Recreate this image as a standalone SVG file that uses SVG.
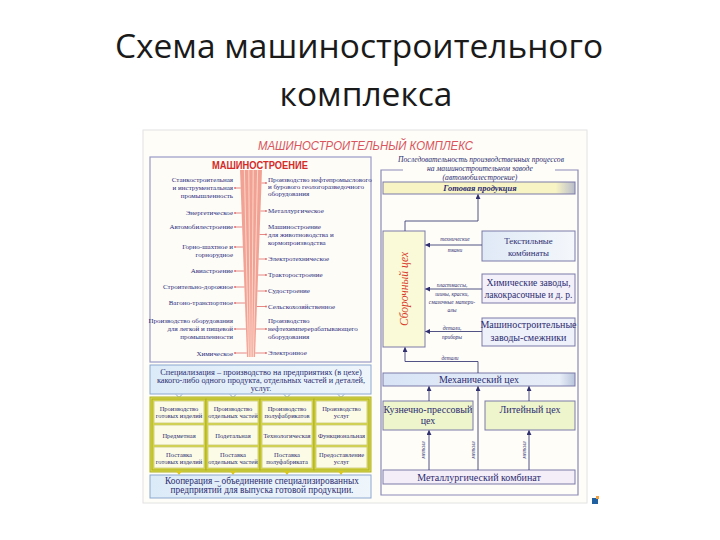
<svg xmlns="http://www.w3.org/2000/svg" width="720" height="540" viewBox="0 0 720 540">
<defs>
<style>
.t{font-family:"Open Sans","Liberation Sans",sans-serif;font-size:33.5px;fill:#1a1a1a;text-anchor:middle}
.sl{font-family:"Liberation Serif","DejaVu Serif",serif;font-size:7px;fill:#2c2c80}
.l{text-anchor:end}
.tk{stroke:#e06a6a;stroke-width:0.8;fill:none}
.dot{fill:#e06a6a}
.box{stroke:#7a7aa8;stroke-width:1}
.rt{font-family:"Liberation Serif","DejaVu Serif",serif;font-size:10px;fill:#2c2c70;text-anchor:middle}
.al{font-family:"Liberation Serif","DejaVu Serif",serif;font-size:5.5px;fill:#2c2c70;text-anchor:middle;font-style:italic}
.cn{fill:none;stroke:#404078;stroke-width:0.9}
.col{fill:#d6d640;stroke:#aeae22;stroke-width:1}
.cell{fill:#fbfbe6;stroke:#c8c878;stroke-width:0.8}
.ct{font-family:"Liberation Serif","DejaVu Serif",serif;font-size:6.5px;fill:#2c2c70;text-anchor:middle}
.bt{font-family:"Liberation Serif","DejaVu Serif",serif;fill:#2c2c70;text-anchor:middle}
.hd{font-family:"Liberation Serif","DejaVu Serif",serif;font-style:italic;font-size:7.6px;fill:#2c2c70;text-anchor:middle}
.stripe{stroke:#fcd6ca;stroke-width:1}
.chev{fill:none;stroke:#8aa8d0;stroke-width:1}
.tri{fill:#d8c820}
</style>
<marker id="ah" viewBox="0 0 6 6" refX="5.5" refY="3" markerWidth="5" markerHeight="5" orient="auto" markerUnits="userSpaceOnUse"><path d="M0,0 L6,3 L0,6 z" fill="#303070"/></marker>
<linearGradient id="gY" x1="0" x2="1"><stop offset="0" stop-color="#f8f4c4"/><stop offset="0.9" stop-color="#f8f4c4"/><stop offset="1" stop-color="#b8bccc"/></linearGradient>
<linearGradient id="gB" x1="0" x2="1"><stop offset="0" stop-color="#d8e4f6"/><stop offset="0.92" stop-color="#e8eef8"/><stop offset="1" stop-color="#b8c4dc"/></linearGradient>
<linearGradient id="gT" x1="0" x2="1"><stop offset="0" stop-color="#dfe9f6"/><stop offset="1" stop-color="#f4f7fb"/></linearGradient>
<linearGradient id="gS" x1="0" x2="1"><stop offset="0" stop-color="#dcebf8"/><stop offset="1" stop-color="#eef5fb"/></linearGradient>
</defs>

<rect width="720" height="540" fill="#ffffff"/>

<g id="title">
<text class="t" x="359" y="58">Схема машиностроительного</text>
<text class="t" x="366" y="106">комплекса</text>
</g>

<g id="frame">
<rect x="143" y="130" width="444" height="373" fill="#fefdf8" stroke="#e2e2e2" stroke-width="1"/>
<text x="258" y="149.5" textLength="215" lengthAdjust="spacingAndGlyphs" font-family="'Liberation Sans', sans-serif" font-size="12" font-style="italic" fill="#d9545c">МАШИНОСТРОИТЕЛЬНЫЙ КОМПЛЕКС</text>
<rect x="592" y="498" width="6" height="6" fill="#2060a0"/>
<rect x="596" y="496" width="3" height="3" fill="#f0a040"/>
</g>

<g id="left-panel">
<rect x="150" y="157" width="221" height="205" fill="#fdfcf6" stroke="#9a9ac8" stroke-width="1.2"/>
<text x="212" y="169" textLength="96" lengthAdjust="spacingAndGlyphs" font-family="'Liberation Sans', sans-serif" font-size="10.5" font-weight="bold" fill="#d42a2a">МАШИНОСТРОЕНИЕ</text>
</g>

<g id="bar">
<polygon points="240,170 262,170 255,357 247,357" fill="#f2a294"/>
<line class="stripe" x1="244.4" y1="170" x2="248.6" y2="357"/>
<line class="stripe" x1="248.8" y1="170" x2="250.2" y2="357"/>
<line class="stripe" x1="253.2" y1="170" x2="251.8" y2="357"/>
<line class="stripe" x1="257.6" y1="170" x2="253.4" y2="357"/>
</g>

<g id="sector-connectors">
<path class="tk" d="M235,188H240.7M235,213H241.6M235,227H242.1M235,247H242.9M235,271H243.8M235,287H244.4M235,303H245M235,329H245.9M235,353H246.8"/>
<path class="tk" d="M261.5,183H266M260.5,211H266M259.6,234.5H266M258.7,259H266M258.1,275H266M257.5,291H266M256.9,306.5H266M256.1,329H266M255.2,353H266"/>
<g class="dot">
<circle cx="235" cy="188" r="0.9"/><circle cx="235" cy="213" r="0.9"/><circle cx="235" cy="227" r="0.9"/><circle cx="235" cy="247" r="0.9"/><circle cx="235" cy="271" r="0.9"/><circle cx="235" cy="287" r="0.9"/><circle cx="235" cy="303" r="0.9"/><circle cx="235" cy="329" r="0.9"/><circle cx="235" cy="353" r="0.9"/>
<circle cx="266" cy="183" r="0.9"/><circle cx="266" cy="211" r="0.9"/><circle cx="266" cy="234.5" r="0.9"/><circle cx="266" cy="259" r="0.9"/><circle cx="266" cy="275" r="0.9"/><circle cx="266" cy="291" r="0.9"/><circle cx="266" cy="306.5" r="0.9"/><circle cx="266" cy="329" r="0.9"/><circle cx="266" cy="353" r="0.9"/>
</g>
</g>

<g id="sectors-left" class="sl">
<g id="s-stanko"><text class="l" x="233" y="182">Станкостроительная</text><text class="l" x="233" y="190">и инструментальная</text><text class="l" x="233" y="198">промышленность</text></g>
<g id="s-energ"><text class="l" x="233" y="215">Энергетическое</text></g>
<g id="s-avto"><text class="l" x="233" y="229">Автомобилестроение</text></g>
<g id="s-gorno"><text class="l" x="233" y="249">Горно-шахтное и</text><text class="l" x="233" y="257">горнорудное</text></g>
<g id="s-avia"><text class="l" x="233" y="273">Авиастроение</text></g>
<g id="s-stroit"><text class="l" x="233" y="289">Строительно-дорожное</text></g>
<g id="s-vagon"><text class="l" x="233" y="305">Вагоно-транспортное</text></g>
<g id="s-legk"><text class="l" x="233" y="323">Производство оборудования</text><text class="l" x="233" y="331">для легкой и пищевой</text><text class="l" x="233" y="339">промышленности</text></g>
<g id="s-him"><text class="l" x="233" y="355.5">Химическое</text></g>
</g>

<g id="sectors-right" class="sl">
<g id="s-neft"><text x="268" y="182">Производство нефтепромыслового</text><text x="268" y="189">и бурового геологоразведочного</text><text x="268" y="196">оборудования</text></g>
<g id="s-metal"><text x="268" y="213">Металлургическое</text></g>
<g id="s-zhiv"><text x="268" y="229">Машиностроение</text><text x="268" y="237">для животноводства и</text><text x="268" y="245">кормопроизводства</text></g>
<g id="s-elteh"><text x="268" y="261">Электротехническое</text></g>
<g id="s-trakt"><text x="268" y="277">Тракторостроение</text></g>
<g id="s-sudo"><text x="268" y="293">Судостроение</text></g>
<g id="s-selh"><text x="268" y="308.5">Сельскохозяйственное</text></g>
<g id="s-neftehim"><text x="268" y="323">Производство</text><text x="268" y="331">нефтехимперерабатывающего</text><text x="268" y="339">оборудования</text></g>
<g id="s-elektr"><text x="268" y="355">Электронное</text></g>
</g>

<g id="specialization">
<rect x="150" y="365" width="221" height="29" fill="url(#gS)" stroke="#8aa8d0" stroke-width="1"/>
<text class="bt" font-size="8.3" x="261" y="375">Специализация – производство на предприятиях (в цехе)</text>
<text class="bt" font-size="8.3" x="261" y="383">какого-либо одного продукта, отдельных частей и деталей,</text>
<text class="bt" font-size="8.3" x="261" y="391">услуг.</text>
<path class="chev" d="M176,394.5L179,397.5L182,394.5M230,394.5L233,397.5L236,394.5M284,394.5L287,397.5L290,394.5M338,394.5L341,397.5L344,394.5"/>
</g>

<g id="grid">
<rect x="150" y="397" width="221" height="75" fill="#dcdc50" stroke="#b0b024" stroke-width="1"/>
<rect class="col" x="152" y="399" width="54" height="71"/>
<rect class="col" x="206" y="399" width="54" height="71"/>
<rect class="col" x="260" y="399" width="54" height="71"/>
<rect class="col" x="314" y="399" width="55" height="71"/>
<g id="c11"><rect class="cell" x="154" y="401" width="50" height="22"/><text class="ct" x="179" y="410.5">Производство</text><text class="ct" x="179" y="418">готовых изделий</text></g>
<g id="c12"><rect class="cell" x="208" y="401" width="50" height="22"/><text class="ct" x="233" y="410.5">Производство</text><text class="ct" x="233" y="418">отдельных частей</text></g>
<g id="c13"><rect class="cell" x="262" y="401" width="50" height="22"/><text class="ct" x="287" y="410.5">Производство</text><text class="ct" x="287" y="418">полуфабрикатов</text></g>
<g id="c14"><rect class="cell" x="316" y="401" width="51" height="22"/><text class="ct" x="341.5" y="410.5">Производство</text><text class="ct" x="341.5" y="418">услуг</text></g>
<g id="c21"><rect class="cell" x="154" y="425" width="50" height="20"/><text class="ct" font-size="7" x="179" y="437.5">Предметная</text></g>
<g id="c22"><rect class="cell" x="208" y="425" width="50" height="20"/><text class="ct" font-size="7" x="233" y="437.5">Подетальная</text></g>
<g id="c23"><rect class="cell" x="262" y="425" width="50" height="20"/><text class="ct" font-size="7" x="287" y="437.5">Технологическая</text></g>
<g id="c24"><rect class="cell" x="316" y="425" width="51" height="20"/><text class="ct" font-size="7" x="341.5" y="437.5">Функциональная</text></g>
<g id="c31"><rect class="cell" x="154" y="447" width="50" height="21"/><text class="ct" x="179" y="456.5">Поставка</text><text class="ct" x="179" y="464">готовых изделий</text></g>
<g id="c32"><rect class="cell" x="208" y="447" width="50" height="21"/><text class="ct" x="233" y="456.5">Поставка</text><text class="ct" x="233" y="464">отдельных частей</text></g>
<g id="c33"><rect class="cell" x="262" y="447" width="50" height="21"/><text class="ct" x="287" y="456.5">Поставка</text><text class="ct" x="287" y="464">полуфабриката</text></g>
<g id="c34"><rect class="cell" x="316" y="447" width="51" height="21"/><text class="ct" x="341.5" y="456.5">Предоставление</text><text class="ct" x="341.5" y="464">услуг</text></g>
<path class="tri" d="M176,471H182L179,475ZM230,471H236L233,475ZM284,471H290L287,475ZM338,471H344L341,475Z"/>
</g>

<g id="cooperation">
<rect x="150" y="475" width="221" height="23" fill="url(#gS)" stroke="#8aa8d0" stroke-width="1"/>
<text class="bt" font-size="9.3" x="262" y="484">Кооперация – объединение специализированных</text>
<text class="bt" font-size="9.3" x="262" y="493">предприятий для выпуска готовой продукции.</text>
</g>

<g id="right-panel">
<path d="M403,170H381V495H578V170H555" fill="none" stroke="#8a8ab8" stroke-width="1.2"/>
<text class="hd" x="481" y="162">Последовательность производственных процессов</text>
<text class="hd" x="480" y="171">на машиностроительном заводе</text>
<text class="hd" x="480" y="179.5">(автомобилестроение)</text>
</g>

<g id="n-gotovaya">
<rect class="box" x="383" y="182" width="192" height="12" fill="url(#gY)"/>
<text class="bt" x="480" y="191" font-size="8.5" font-weight="bold" font-style="italic">Готовая продукция</text>
</g>

<g id="n-sborochny">
<rect class="box" x="383" y="231" width="42" height="116" fill="#fafad8"/>
<text transform="translate(408,289) rotate(-90)" text-anchor="middle" font-family="'Liberation Serif', 'DejaVu Serif', serif" font-style="italic" font-size="11.5" fill="#d83a2a">Сборочный цех</text>
</g>

<g id="n-textil">
<rect class="box" x="482" y="231" width="93" height="30" fill="url(#gT)"/>
<text class="bt" font-size="8.8" x="528.5" y="244">Текстильные</text>
<text class="bt" font-size="8.8" x="528.5" y="256">комбинаты</text>
</g>

<g id="n-him">
<rect class="box" x="482" y="274" width="93" height="29" fill="#f3f0fa"/>
<text class="bt" font-size="9.6" x="528.5" y="286">Химические заводы,</text>
<text class="bt" font-size="9.6" x="528.5" y="298">лакокрасочные и д. р.</text>
</g>

<g id="n-smezh">
<rect class="box" x="482" y="318" width="93" height="28" fill="#eef0fa"/>
<text class="bt" font-size="10" x="528.5" y="328">Машиностроительные</text>
<text class="bt" font-size="10" x="528.5" y="341">заводы-смежники</text>
</g>

<g id="n-meh">
<rect class="box" x="383" y="373" width="192" height="13" fill="url(#gB)"/>
<text class="rt" x="479" y="383">Механический цех</text>
</g>

<g id="n-kuzn">
<rect class="box" x="383" y="401" width="90" height="29" fill="#eef5cc"/>
<text class="rt" x="428" y="413">Кузнечно-прессовый</text>
<text class="rt" x="428" y="424">цех</text>
</g>

<g id="n-lit">
<rect class="box" x="485" y="401" width="90" height="29" fill="#eef5cc"/>
<text class="rt" x="530" y="413">Литейный цех</text>
</g>

<g id="n-metkomb">
<rect class="box" x="383" y="470" width="192" height="14" fill="#f4eef8"/>
<text class="rt" x="479" y="481">Металлургический комбинат</text>
</g>

<g id="connectors">
<path class="cn" marker-end="url(#ah)" d="M405,231V221H478V194.5"/>
<path class="cn" marker-end="url(#ah)" d="M482,245H425.5"/>
<path class="cn" marker-end="url(#ah)" d="M482,289H425.5"/>
<path class="cn" marker-end="url(#ah)" d="M482,331.5H425.5"/>
<path class="cn" marker-end="url(#ah)" d="M478,373V361.5H405V347.5"/>
<path class="cn" marker-end="url(#ah)" d="M429,401V386.5"/>
<path class="cn" marker-end="url(#ah)" d="M529,401V386.5"/>
<path class="cn" marker-end="url(#ah)" d="M478,470V386.5"/>
<path class="cn" marker-end="url(#ah)" d="M429,470V430.5"/>
<path class="cn" marker-end="url(#ah)" d="M529,470V430.5"/>
<g class="al">
<text x="455" y="240.5">технические</text>
<text x="455" y="252">ткани</text>
<text x="452" y="287">пластмассы,</text>
<text x="452" y="296">шины, краски,</text>
<text x="452" y="304">смазочные матери-</text>
<text x="452" y="312">алы</text>
<text x="452" y="329.5">детали,</text>
<text x="452" y="339">приборы</text>
<text x="450" y="359.5">детали</text>
<text transform="translate(425,450) rotate(-90)">металл</text>
<text transform="translate(475,450) rotate(-90)">металл</text>
<text transform="translate(526,450) rotate(-90)">металл</text>
</g>
</g>
</svg>
